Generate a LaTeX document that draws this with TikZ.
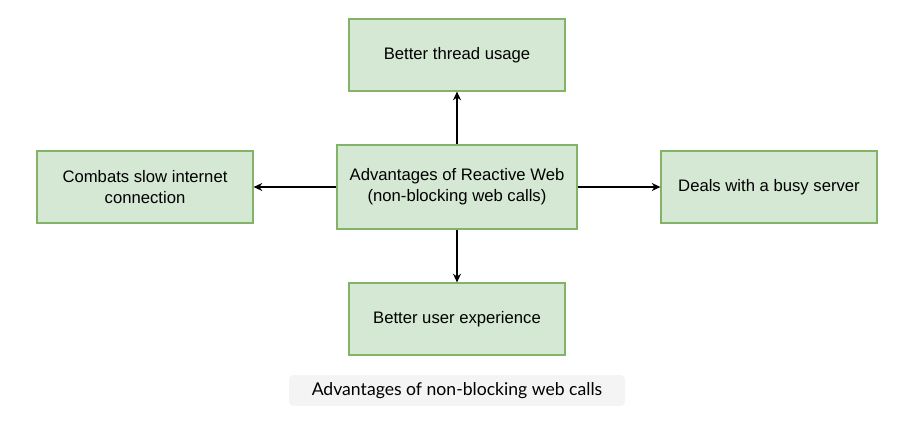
\documentclass[tikz,border=0pt]{standalone}
\usepackage{fontspec}
\setmainfont{Liberation Sans}
\newfontfamily\capfont{Lato}
\usepackage{xcolor}
\usetikzlibrary{arrows.meta}
\definecolor{boxfill}{HTML}{D5E8D4}
\definecolor{boxline}{HTML}{82B366}
\definecolor{capfill}{HTML}{F4F4F4}
\tikzset{
	adv/.style={
			draw=boxline, fill=boxfill, line width=0.9pt,
			minimum width=162pt, minimum height=54pt,
			align=center, inner sep=2pt,
			font=\fontsize{12.5}{15.5}\selectfont
		}
}
\tikzstyle{caption} = [fill=capfill, rounded corners=3pt, minimum width=252pt, minimum height=23pt, font=\capfont\fontsize{13.2}{15}\selectfont]
\tikzstyle{l} = [draw, line width=0.9pt, black, -{Stealth[length=6.5pt,width=6pt]}]

\begin{document}
\begin{tikzpicture}[x=0.75pt, y=-0.75pt]
  \useasboundingbox (0,0) rectangle (915,443);
  \node[adv, minimum width=180pt, minimum height=63pt] (RW) at (457,187) {Advantages of Reactive Web\\(non-blocking web calls)};
  \node[adv] (TU) at (457,55) {Better thread usage};
  \node[adv] (SI) at (145,187) {Combats slow internet\\connection};
  \node[adv] (BS) at (769,187) {Deals with a busy server};
  \node[adv] (UX) at (457,319) {Better user experience};
  \node[caption] (CAP) at (457,390.5) {Advantages of non-blocking web calls};

  \draw[l] (RW) -- (TU);
  \draw[l] (RW) -- (SI);
  \draw[l] (RW) -- (BS);
  \draw[l] (RW) -- (UX);
\end{tikzpicture}
\end{document}
